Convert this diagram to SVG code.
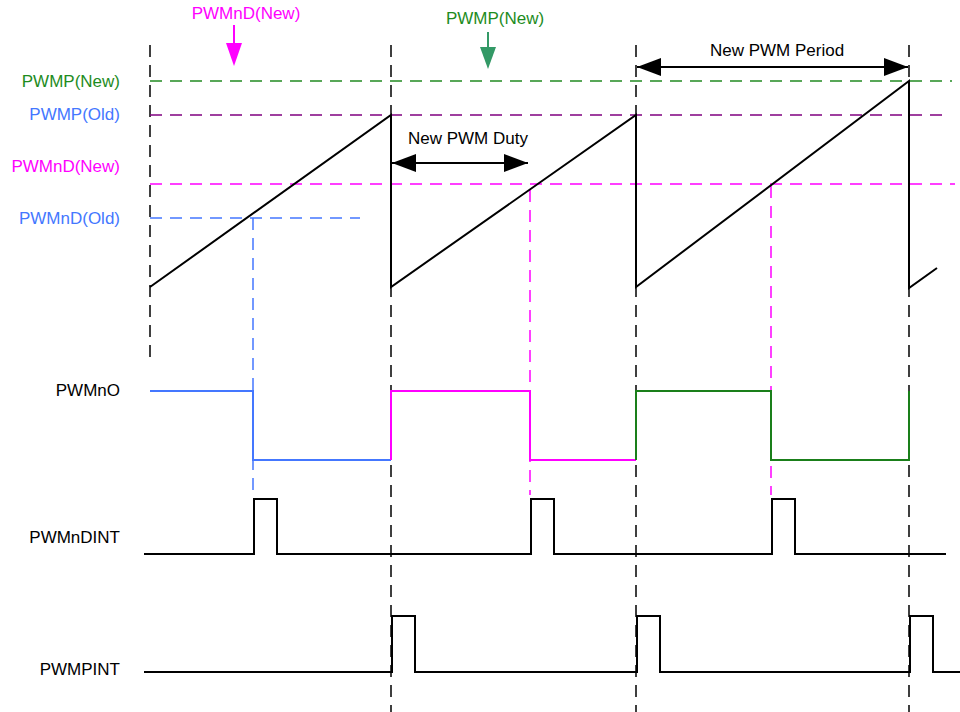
<svg xmlns="http://www.w3.org/2000/svg" width="960" height="712" viewBox="0 0 960 712">
<defs>
<style>
text{font-family:"Liberation Sans",Arial,sans-serif;font-size:17px}
.lbl{text-anchor:end}
.mid{text-anchor:middle}
.vd{stroke:#000;stroke-width:1.5;stroke-dasharray:12 8;fill:none}
.hd{stroke-width:1.5;stroke-dasharray:12 8;fill:none}
.sig{fill:none;stroke-width:2}
</style>
<marker id="ah" viewBox="0 0 24 18" refX="24" refY="9" markerWidth="24" markerHeight="18" markerUnits="userSpaceOnUse" orient="auto-start-reverse">
<path d="M0,0 L24,9 L0,18 Z" fill="#000"/>
</marker>
</defs>
<rect width="960" height="712" fill="#fff"/>

<g id="gridlines">
<line class="vd" x1="150" y1="45" x2="150" y2="365"/>
<line class="vd" x1="391" y1="45" x2="391" y2="712"/>
<line class="vd" x1="636" y1="45" x2="636" y2="712"/>
<line class="vd" x1="909" y1="45" x2="909" y2="712"/>
<line class="hd" stroke="#228B22" x1="150" y1="81" x2="952" y2="81"/>
<line class="hd" stroke="#800080" x1="150" y1="115" x2="944" y2="115"/>
<line class="hd" stroke="#FF00FF" x1="150" y1="184" x2="955" y2="184"/>
<line class="hd" stroke="#4477FF" x1="150" y1="218" x2="360" y2="218"/>
<line class="hd" stroke="#4477FF" x1="253" y1="218" x2="253" y2="495"/>
<line class="hd" stroke="#FF00FF" x1="530" y1="190" x2="530" y2="495"/>
<line class="hd" stroke="#FF00FF" x1="771" y1="186" x2="771" y2="495"/>
</g>

<g id="labels">
<text class="lbl" x="120" y="87" fill="#1E8C1E">PWMP(New)</text>
<text class="lbl" x="120" y="120" fill="#4477FF">PWMP(Old)</text>
<text class="lbl" x="120" y="172" fill="#FF00FF">PWMnD(New)</text>
<text class="lbl" x="120" y="224" fill="#4477FF">PWMnD(Old)</text>
<text class="lbl" x="120" y="396" fill="#000">PWMnO</text>
<text class="lbl" x="120" y="543" fill="#000">PWMnDINT</text>
<text class="lbl" x="120" y="675" fill="#000">PWMPINT</text>
</g>

<g id="sawtooth">
<polyline class="sig" stroke="#000" stroke-width="1.6" points="150,287 391,115 391,287 636,115 636,287 909,81 909,288 937,268"/>
</g>

<g id="pwmno">
<polyline class="sig" stroke="#4477FF" points="150,391 253,391 253,460 391,460"/>
<polyline class="sig" stroke="#FF00FF" points="391,460 391,391 530,391 530,460 636,460"/>
<polyline class="sig" stroke="#1A7F1A" points="636,460 636,391 771,391 771,460 909,460 909,391"/>
</g>

<g id="pwmndint">
<polyline class="sig" stroke="#000" points="144,554 254,554 254,499 277,499 277,554 531,554 531,499 554,499 554,554 772,554 772,499 795,499 795,554 946,554"/>
</g>

<g id="pwmpint">
<polyline class="sig" stroke="#000" points="144,672 392,672 392,616 415,616 415,672 637,672 637,616 660,616 660,672 910,672 910,616 933,616 933,672 960,672"/>
</g>

<g id="pwmnd-new-marker">
<text class="mid" x="246" y="19" fill="#FF00FF">PWMnD(New)</text>
<line x1="234" y1="25" x2="234" y2="45" stroke="#FF00FF" stroke-width="2"/>
<path d="M226,43 L242,43 L234,66 Z" fill="#FF00FF"/>
</g>

<g id="pwmp-new-marker">
<text class="mid" x="495" y="24" fill="#1E8C1E">PWMP(New)</text>
<line x1="488" y1="32" x2="488" y2="49" stroke="#339966" stroke-width="2"/>
<path d="M480,47 L496,47 L488,69 Z" fill="#339966"/>
</g>

<g id="connectors">
<line x1="392" y1="163" x2="528" y2="163" stroke="#000" stroke-width="2" marker-start="url(#ah)" marker-end="url(#ah)"/>
<line x1="637" y1="67" x2="908" y2="67" stroke="#000" stroke-width="2" marker-start="url(#ah)" marker-end="url(#ah)"/>
</g>

<g id="dim-labels">
<text x="408" y="144" fill="#000">New PWM Duty</text>
<text x="710" y="56" fill="#000">New PWM Period</text>
</g>
</svg>
